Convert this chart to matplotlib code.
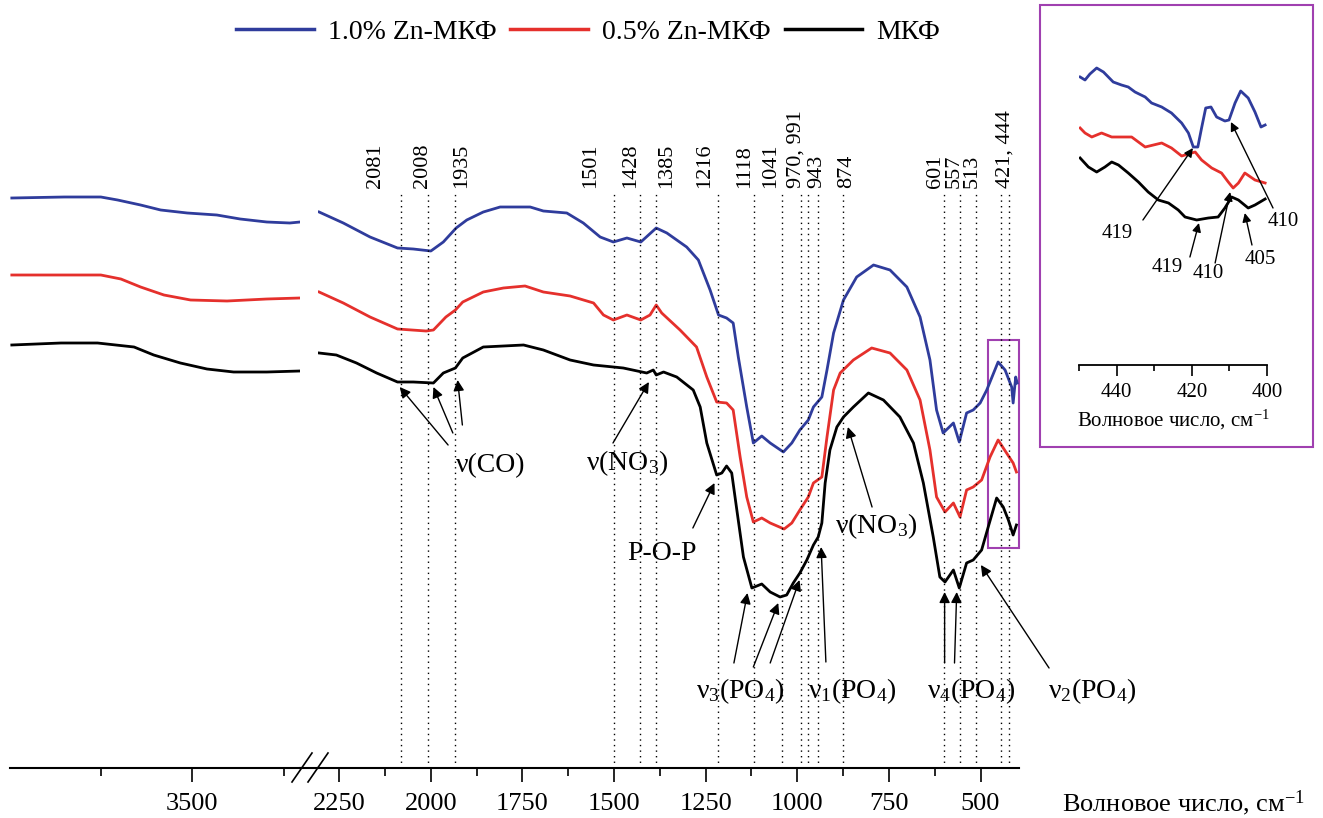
import matplotlib
matplotlib.use("Agg")
import matplotlib.pyplot as plt
from matplotlib.patches import Rectangle
from matplotlib.lines import Line2D
from matplotlib.ticker import FixedLocator

plt.rcParams['font.family'] = ['Liberation Serif', 'DejaVu Serif']
plt.rcParams['mathtext.fontset'] = 'custom'
plt.rcParams['mathtext.rm'] = 'Liberation Serif'
plt.rcParams['mathtext.it'] = 'Liberation Serif:italic'

# ---- ИК-спектры (пропускание, отн. ед.) ----
names = ['1.0% Zn-МКФ', '0.5% Zn-МКФ', 'МКФ']
colors = ['#2f3c9c', '#e5302c', '#000000']

# участок 4000-3200 см-1
blue_l_wn = [3995, 3851, 3751, 3705, 3642, 3587, 3514, 3433, 3369, 3296, 3233, 3205]
blue_l_t = [570, 571, 571, 568, 563, 558, 555, 553, 549, 546, 545, 546]
red_l_wn = [3995, 3887, 3751, 3696, 3642, 3578, 3505, 3405, 3296, 3205]
red_l_t = [493, 493, 493, 489, 481, 473, 468, 467, 469, 470]
black_l_wn = [3995, 3860, 3760, 3660, 3606, 3533, 3460, 3387, 3296, 3205]
black_l_t = [423, 425, 425, 421, 413, 405, 399, 396, 396, 397]

# участок 2300-400 см-1
blue_r_wn = [2305, 2239, 2166, 2091, 2048, 2000, 1966, 1931, 1902, 1857, 1811, 1729, 1693, 1629, 1584,
             1538, 1502, 1465, 1427, 1385, 1356, 1302, 1270, 1238, 1215, 1193, 1175, 1161, 1138, 1120,
             1097, 1074, 1038, 1015, 993, 970, 956, 933, 919, 901, 874, 838, 792, 747, 701,
             665, 638, 620, 602, 574, 558, 538, 520, 501, 483, 452, 433, 415, 411, 404, 400]
blue_r_t = [556, 545, 531, 520, 519, 517, 526, 540, 548, 556, 561, 561, 557, 555, 545,
            531, 526, 530, 526, 540, 535, 521, 508, 478, 453, 450, 445, 411, 361, 325,
            332, 325, 316, 325, 338, 348, 361, 371, 398, 435, 468, 491, 503, 498, 481,
            451, 408, 358, 335, 345, 326, 355, 358, 365, 378, 406, 398, 381, 365, 391, 385]
red_r_wn = [2305, 2239, 2166, 2091, 2013, 1993, 1959, 1933, 1913, 1857, 1802, 1743, 1693, 1620, 1556,
            1529, 1502, 1465, 1427, 1402, 1385, 1370, 1320, 1275, 1247, 1220, 1193, 1175, 1156, 1138,
            1120, 1097, 1074, 1036, 1015, 993, 970, 956, 933, 919, 901, 883, 847, 797, 747,
            701, 665, 638, 620, 597, 574, 556, 538, 520, 497, 474, 452, 429, 411, 402]
red_r_t = [476, 465, 451, 439, 437, 438, 451, 458, 466, 476, 480, 482, 476, 472, 465,
           453, 448, 453, 448, 453, 463, 455, 438, 421, 391, 366, 365, 358, 311, 271,
           246, 250, 245, 239, 245, 258, 271, 285, 291, 331, 378, 395, 408, 420, 415,
           398, 368, 318, 271, 256, 265, 251, 278, 281, 288, 311, 328, 315, 305, 296]
black_r_wn = [2305, 2258, 2203, 2148, 2091, 2048, 1993, 1966, 1933, 1913, 1857, 1802, 1747, 1693, 1620,
              1556, 1475, 1411, 1393, 1385, 1365, 1329, 1284, 1265, 1247, 1220, 1206, 1193, 1179, 1165,
              1147, 1124, 1097, 1074, 1047, 1029, 1011, 993, 974, 956, 943, 933, 924, 911, 892,
              874, 847, 806, 765, 720, 683, 656, 629, 611, 597, 574, 558, 538, 520, 497,
              479, 456, 438, 424, 411, 402]
black_r_t = [415, 413, 405, 395, 386, 386, 385, 395, 400, 410, 421, 422, 423, 418, 408,
             403, 400, 395, 398, 393, 396, 391, 378, 361, 325, 293, 295, 302, 295, 258,
             211, 180, 184, 176, 171, 173, 185, 195, 208, 223, 231, 245, 285, 318, 341,
             351, 361, 375, 368, 351, 325, 285, 231, 191, 186, 198, 180, 205, 208, 218,
             241, 270, 261, 248, 233, 243]

# вставка 450-400 см-1
blue_in_wn = [449.7, 448.4, 447.1, 445.3, 443.5, 440.9, 438.7, 436.9, 435.1, 432.4, 430.7, 428.0, 425.4, 422.7,
              420.9, 419.6, 418.4, 417.4, 416.3, 414.9, 413.4, 411.2, 410.1, 408.5, 407.0, 405.0, 403.2, 401.6, 400.5]
blue_in_t = [288, 285, 291, 297, 293, 283, 280, 278, 273, 268, 262, 258, 252, 242,
             232, 218, 218, 237, 257, 258, 248, 244, 245, 262, 274, 267, 253, 238, 240]
red_in_wn = [449.7, 448.4, 446.6, 444.0, 441.3, 438.7, 436.0, 432.4, 430.2, 428.0, 425.4, 422.7, 420.9, 419.1,
             417.4, 414.7, 412.1, 410.3, 409.0, 407.6, 405.9, 403.2, 400.5]
red_in_t = [237, 232, 228, 232, 228, 228, 228, 218, 220, 222, 217, 209, 211, 213,
            205, 197, 192, 183, 177, 182, 192, 185, 182]
black_in_wn = [449.7, 447.5, 445.3, 443.1, 441.3, 439.5, 436.9, 434.2, 431.6, 428.9, 426.2, 423.6, 421.8, 418.7,
               415.6, 413.0, 411.2, 409.4, 407.6, 405.0, 403.2, 400.5]
black_in_t = [207, 198, 193, 198, 203, 200, 192, 183, 173, 165, 162, 155, 148, 145,
              147, 148, 157, 168, 165, 157, 160, 166]

# отмеченные полосы
peaks = [2081, 2008, 1935, 1501, 1428, 1385, 1216, 1118, 1041, 991, 970, 943, 874, 601, 557, 513, 444, 421]
peak_labels = ['2081', '2008', '1935', '1501', '1428', '1385', '1216', '1118', '1041', '970, 991',
               '943', '874', '601', '557', '513', '421, 444']
peak_label_x = [2150, 2022, 1916, 1565, 1456, 1358, 1254, 1145, 1072, 1004, 946, 865, 624, 573, 522, 433]

W, H = 1323, 818
purple = '#a040b0'


def box(x0, y0, x1, y1):
    return [x0 / W, 1 - y1 / H, (x1 - x0) / W, (y1 - y0) / H]


fig = plt.figure(figsize=(W / 100, H / 100), dpi=100)
ax_l = fig.add_axes(box(10, 60, 300, 768))
ax_r = fig.add_axes(box(318, 60, 1019, 768))

lw = 2.0
ax_l.plot(blue_l_wn, blue_l_t, color=colors[0], lw=lw)
ax_l.plot(red_l_wn, red_l_t, color=colors[1], lw=lw)
ax_l.plot(black_l_wn, black_l_t, color=colors[2], lw=lw)
ax_r.plot(blue_r_wn, blue_r_t, color=colors[0], lw=lw)
ax_r.plot(red_r_wn, red_r_t, color=colors[1], lw=lw)
ax_r.plot(black_r_wn, black_r_t, color=colors[2], lw=lw)

ax_l.set_xlim(4000, 3205)
ax_r.set_xlim(2308, 395)
for ax in (ax_l, ax_r):
    ax.set_ylim(0, 708)
    for s in ('top', 'left', 'right'):
        ax.spines[s].set_visible(False)
    ax.spines['bottom'].set_linewidth(1.5)
    ax.set_yticks([])
    ax.tick_params(axis='x', which='major', length=10, width=1.2, pad=8, labelsize=19)
    ax.tick_params(axis='x', which='minor', length=6, width=1.2)
    ax.patch.set_visible(False)

ax_l.xaxis.set_major_locator(FixedLocator([3500]))
ax_l.xaxis.set_minor_locator(FixedLocator([3750, 3250]))
ax_r.xaxis.set_major_locator(FixedLocator([2250, 2000, 1750, 1500, 1250, 1000, 750, 500]))
ax_r.xaxis.set_minor_locator(FixedLocator([2125, 1875, 1625, 1375, 1125, 875, 625]))

# разрыв оси
fig.add_artist(Line2D([300 / W, 318 / W], [1 - 768 / H] * 2, transform=fig.transFigure, color='k', lw=1.5))
for x0 in (292, 308):
    fig.add_artist(Line2D([x0 / W, (x0 + 20) / W], [1 - 782 / H, 1 - 753 / H],
                          transform=fig.transFigure, color='k', lw=1.2))

# пунктирные линии и подписи полос
ax_r.vlines(peaks, 0, 575, colors='k', linestyles=(0, (1, 3)), lw=1.0)
for xl, lab in zip(peak_label_x, peak_labels):
    ax_r.text(xl, 580, lab, rotation=90, ha='center', va='bottom', fontsize=16)

# подписи колебаний
arrow = dict(arrowstyle='-|>', color='k', lw=1.0, mutation_scale=16, shrinkA=0, shrinkB=0)
notes = [
    ('ν(CO)', 1838, 296, [((1953, 323), (2085, 381)), ((1940, 335), (1993, 381)), ((1914, 343), (1927, 388))]),
    ('ν(NO$_3$)', 1465, 298, [((1503, 325), (1405, 386))]),
    ('P-O-P', 1369, 208, [((1285, 240), (1226, 285))]),
    ('ν$_3$(PO$_4$)', 1156, 70, [((1173, 105), (1136, 175)), ((1120, 101), (1052, 165)), ((1074, 105), (994, 188))]),
    ('ν$_1$(PO$_4$)', 851, 70, [((922, 106), (935, 221))]),
    ('ν(NO$_3$)', 785, 235, [((796, 261), (862, 341))]),
    ('ν$_4$(PO$_4$)', 526, 70, [((598, 105), (598, 176)), ((571, 105), (565, 176))]),
    ('ν$_2$(PO$_4$)', 196, 70, [((313, 100), (499, 203))]),
]
for txt, tx, ty, arrows in notes:
    ax_r.text(tx, ty, txt, ha='center', va='baseline', fontsize=20, clip_on=False)
    for tail, head in arrows:
        ax_r.annotate('', xy=head, xytext=tail, arrowprops=arrow, annotation_clip=False)

ax_r.add_patch(Rectangle((395, 220), 84.5, 208, fill=False, ec=purple, lw=1.5, clip_on=False))

fig.text(1062 / W, 1 - 803 / H, 'Волновое число, см$^{-1}$', fontsize=19, ha='left', va='center')

# легенда
handles = [Line2D([], [], color=c, lw=2.5) for c in colors]
fig.legend(handles, names, loc='center', bbox_to_anchor=(588 / W, 1 - 32 / H), ncol=3, frameon=False,
           fontsize=20, handlelength=2.8, handletextpad=0.5, columnspacing=0.5)

# вставка
fig.add_artist(Rectangle((1040 / W, 1 - 447 / H), 273 / W, 442 / H, transform=fig.transFigure,
                         fill=False, ec=purple, lw=1.5))
ax_in = fig.add_axes(box(1079, 60, 1267, 365))
ax_in.plot(blue_in_wn, blue_in_t, color=colors[0], lw=2)
ax_in.plot(red_in_wn, red_in_t, color=colors[1], lw=2)
ax_in.plot(black_in_wn, black_in_t, color=colors[2], lw=2)
ax_in.set_xlim(450, 400)
ax_in.set_ylim(0, 305)
for s in ('top', 'left', 'right'):
    ax_in.spines[s].set_visible(False)
ax_in.spines['bottom'].set_linewidth(1.3)
ax_in.set_yticks([])
ax_in.xaxis.set_major_locator(FixedLocator([440, 420, 400]))
ax_in.xaxis.set_minor_locator(FixedLocator([450, 430, 410]))
ax_in.tick_params(axis='x', which='major', length=8, width=1.2, pad=5, labelsize=15)
ax_in.tick_params(axis='x', which='minor', length=4, width=1.2)
ax_in.set_xlabel('Волновое число, см$^{-1}$', fontsize=15, labelpad=4)
ax_in.patch.set_visible(False)

arrow_in = dict(arrowstyle='-|>', color='k', lw=1.0, mutation_scale=13, shrinkA=0, shrinkB=0)
inset_notes = [
    ('419', 439.9, 132, (433.0, 145), (419.7, 217)),
    ('419', 426.6, 97, (420.5, 108), (418.1, 142)),
    ('410', 415.7, 92, (413.8, 102), (409.8, 173)),
    ('405', 401.9, 105, (404.0, 120), (405.9, 152)),
    ('410', 395.7, 143, (398.4, 157), (409.6, 243)),
]
for txt, tx, ty, tail, head in inset_notes:
    ax_in.text(tx, ty, txt, ha='center', va='center', fontsize=15, clip_on=False)
    ax_in.annotate('', xy=head, xytext=tail, arrowprops=arrow_in, annotation_clip=False)

fig.savefig('out.png', dpi=100)
